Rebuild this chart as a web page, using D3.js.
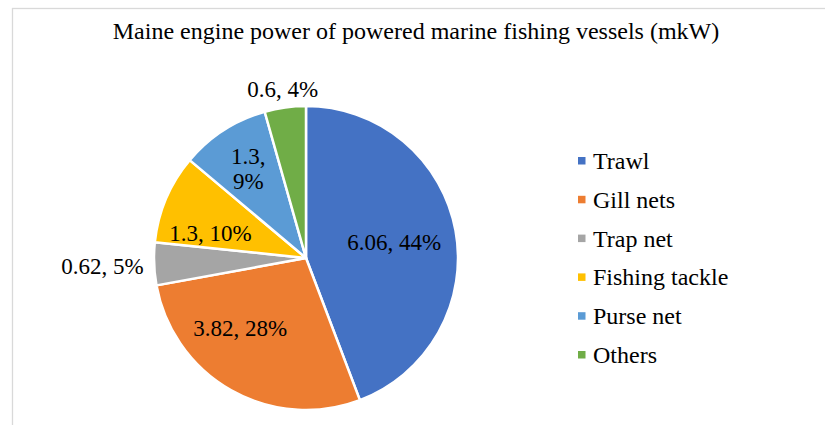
<!DOCTYPE html>
<html>
<head>
<meta charset="utf-8">
<script src="https://cdn.jsdelivr.net/npm/d3@7"></script>
<style>
  body { margin: 0; background: #fff; }
  svg { display: block; font-family: "Liberation Serif", "Times New Roman", serif; }
</style>
</head>
<body>
<svg></svg>
<script>
const categories = ['Trawl', 'Gill nets', 'Trap net', 'Fishing tackle', 'Purse net', 'Others']
const values = [6.06, 3.82, 0.62, 1.3, 1.3, 0.6]
const labels = [['6.06, 44%'], ['3.82, 28%'], ['0.62, 5%'], ['1.3, 10%'], ['1.3,', '9%'], ['0.6, 4%']]
const colors = ['#4472C4', '#ED7D31', '#A5A5A5', '#FFC000', '#5B9BD5', '#70AD47']

const title = 'Maine engine power of powered marine fishing vessels (mkW)'

const w = 825
const h = 425
const cx = 306
const cy = 258
const r = 152

// where Excel put each label: radius factor and angle shift (deg) from slice middle
const labelRadius = [0.59, 0.63, 1.34, 0.65, 0.70, 1.12]
const labelShift = [0, 14, 0, -8, 0, 0]

let svg = d3.select('svg')
  .attr('width', w)
  .attr('height', h)

svg.append('rect')
  .attr('x', 12.5)
  .attr('y', 8.5)
  .attr('width', 900)
  .attr('height', 500)
  .attr('fill', '#fff')
  .attr('stroke', '#d9d9d9')
  .attr('stroke-width', 1.3)

svg.append('text')
  .attr('x', 416)
  .attr('y', 39)
  .attr('text-anchor', 'middle')
  .attr('font-size', 24)
  .attr('fill', '#000')
  .text(title)

let pie = d3.pie().sort(null).value(d => d)
let arcs = pie(values)

let arc = d3.arc().innerRadius(0).outerRadius(r)

let g = svg.append('g').attr('transform', 'translate(' + cx + ',' + cy + ')')

g.selectAll('path')
  .data(arcs)
  .enter()
  .append('path')
  .attr('d', arc)
  .attr('fill', (d, i) => colors[i])
  .attr('stroke', '#fff')
  .attr('stroke-width', 2.5)
  .attr('stroke-linejoin', 'round')

let labelPos = (d, i) => {
  let a = (d.startAngle + d.endAngle) / 2 + labelShift[i] * Math.PI / 180
  let rr = labelRadius[i] * r
  return [Math.sin(a) * rr, -Math.cos(a) * rr]
}

let lineH = 25

arcs.forEach((d, i) => {
  let [x, y] = labelPos(d, i)
  let lines = labels[i]
  let t = g.append('text')
    .attr('text-anchor', 'middle')
    .attr('font-size', 23)
    .attr('fill', '#000')
  lines.forEach((s, j) => {
    t.append('tspan')
      .attr('x', x)
      .attr('y', y + (j - (lines.length - 1) / 2) * lineH)
      .attr('dy', '0.35em')
      .text(s)
  })
})

let legend = svg.append('g')

let legendY = d3.scalePoint()
  .domain(categories)
  .range([160.5, 354.5])

let rows = legend.selectAll('g')
  .data(categories)
  .enter()
  .append('g')
  .attr('transform', d => 'translate(578,' + legendY(d) + ')')

rows.append('rect')
  .attr('x', 0)
  .attr('y', -3.5)
  .attr('width', 7.5)
  .attr('height', 7.5)
  .attr('fill', (d, i) => colors[i])

rows.append('text')
  .attr('x', 15)
  .attr('dy', '0.35em')
  .attr('font-size', 24)
  .attr('fill', '#000')
  .text(d => d)
</script>
</body>
</html>
